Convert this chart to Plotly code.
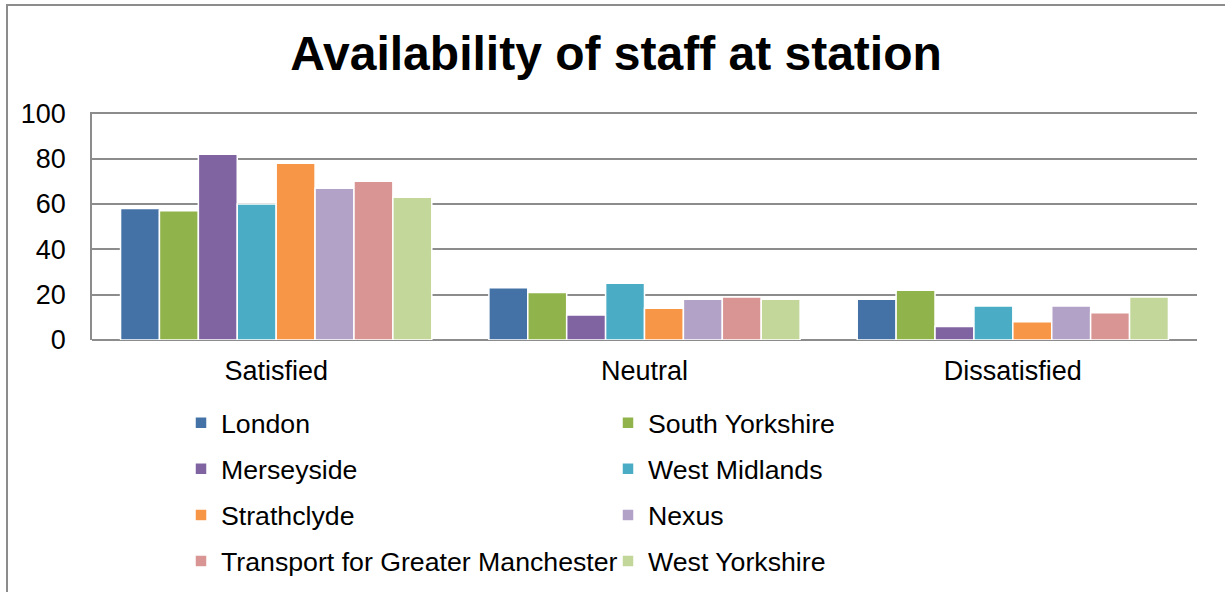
import plotly.graph_objects as go

categories = ["Satisfied", "Neutral", "Dissatisfied"]
regions = ["London", "South Yorkshire", "Merseyside", "West Midlands",
           "Strathclyde", "Nexus", "Transport for Greater Manchester", "West Yorkshire"]
london = [58, 23, 18]
south_yorkshire = [57, 21, 22]
merseyside = [82, 11, 6]
west_midlands = [60, 25, 15]
strathclyde = [78, 14, 8]
nexus = [67, 18, 15]
tfgm = [70, 19, 12]
west_yorkshire = [63, 18, 19]
series_values = [london, south_yorkshire, merseyside, west_midlands,
                 strathclyde, nexus, tfgm, west_yorkshire]
colors = ["#4472A7", "#91B34B", "#8064A2", "#4BACC6",
          "#F79646", "#B2A2C7", "#D99594", "#C4D79B"]
y_ticks = [0, 20, 40, 60, 80, 100]

FONT = "Liberation Sans, Arial, sans-serif"
W, H = 1225, 592
L, R, T, B = 92, 28, 112, 252
pw, ph = W - L - R, H - T - B

def px2x(px):
    return (px - L) / pw

def py2y(py):
    return (H - B - py) / ph

fig = go.Figure()
for i, (name, vals, col) in enumerate(zip(regions, series_values, colors)):
    fig.add_trace(go.Bar(
        x=categories, y=vals, name=name,
        marker=dict(color=col, line=dict(color="white", width=1.5)),
        legend="legend" if i % 2 == 0 else "legend2",
        legendgroup=name,
    ))

legend_common = dict(
    orientation="v", bgcolor="rgba(0,0,0,0)",
    font=dict(family=FONT, size=26.7, color="#000000"),
    tracegroupgap=8.3, yanchor="top", xanchor="left",
)

fig.update_layout(
    width=W, height=H,
    margin=dict(l=L, r=R, t=T, b=B, autoexpand=False),
    paper_bgcolor="white", plot_bgcolor="white",
    title=dict(text="<b>Availability of staff at station</b>",
               x=616 / W, xanchor="center",
               y=1 - 53 / H, yanchor="middle",
               font=dict(family=FONT, size=48, color="#000000")),
    barmode="group", bargap=0.155, bargroupgap=0.0,
    xaxis=dict(showgrid=False, showline=False, ticks="",
               tickfont=dict(family=FONT, size=27, color="#000000"),
               ticklabelstandoff=12),
    yaxis=dict(range=[0, 100.6], tickvals=y_ticks, showgrid=True,
               gridcolor="#8C8C8C", gridwidth=1.5,
               showline=True, linecolor="#8C8C8C", linewidth=1.5,
               zeroline=True, zerolinecolor="#8C8C8C", zerolinewidth=1.5,
               tickfont=dict(family=FONT, size=27, color="#000000"),
               ticklabelstandoff=19),
    legend=dict(x=px2x(181), y=py2y(399), **legend_common),
    legend2=dict(x=px2x(608), y=py2y(399), **legend_common),
    shapes=[dict(type="rect", xref="paper", yref="paper",
                 x0=px2x(7), x1=px2x(1240), y0=py2y(610), y1=py2y(5),
                 line=dict(color="#8C8C8C", width=2), layer="below")],
    showlegend=True,
)

fig.write_html("out.html",
               config={"displayModeBar": False},
               post_script="document.body.style.margin='0px';document.body.style.overflow='hidden';")
